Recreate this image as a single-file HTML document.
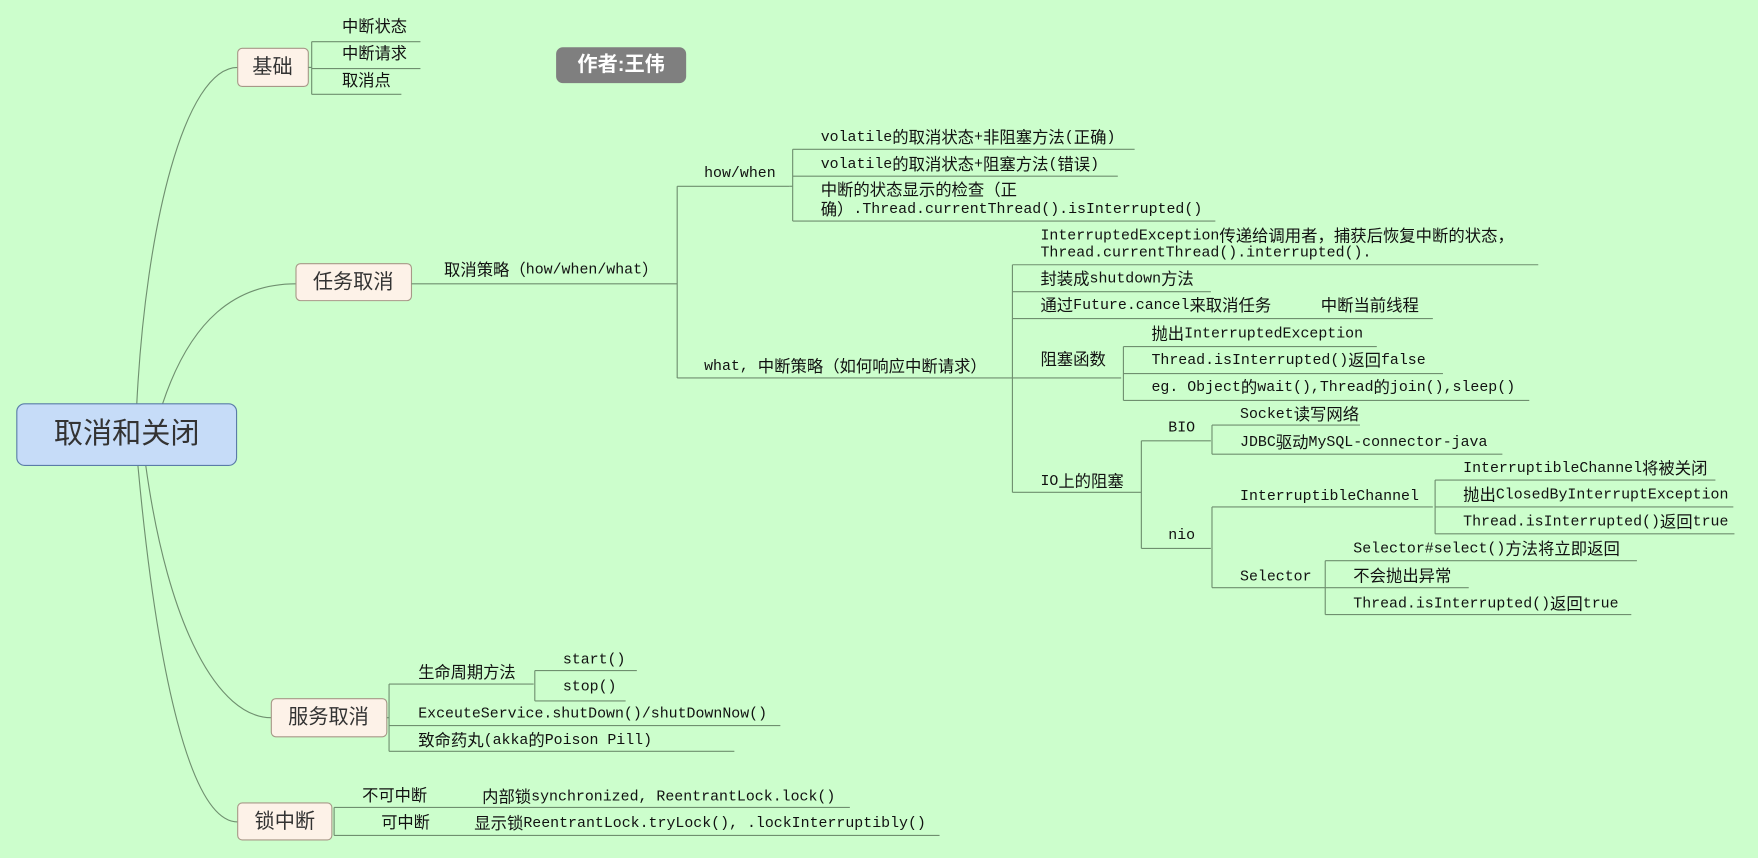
<!DOCTYPE html>
<html><head><meta charset="utf-8"><style>
html,body{margin:0;padding:0;background:#ccfecc;width:1758px;height:858px;overflow:hidden}
svg{display:block}
text{font-family:"Liberation Mono","Noto Sans CJK SC",monospace;font-size:13.3px;fill:#111;dominant-baseline:central}
tspan.k{font-size:14.6px}
.b{font-family:"Liberation Sans","Noto Sans CJK SC",sans-serif;font-size:18px;fill:#333;text-anchor:middle}
.c{font-family:"Liberation Sans","Noto Sans CJK SC",sans-serif;font-size:14.5px}
path,line{stroke:#6f8f6f;stroke-width:1;fill:none}
.box{fill:#fdf2e8;stroke:#a89888;stroke-width:1}
</style></head><body>
<svg width="1758" height="858" viewBox="0 0 1568 765" xmlns="http://www.w3.org/2000/svg">
<rect width="1568" height="765" fill="#ccfecc"/>
<path d="M122,360 C130,200 165,60 212,60"/>
<path d="M145,360 C170,285 210,253 264,253"/>
<path d="M130,415 C150,560 195,640 242,640"/>
<path d="M123,415 C140,600 170,733 212,733"/>
<rect x="15" y="360" width="196" height="55" rx="7" fill="#c6dcf8" stroke="#5a7ca8"/>
<text x="113" y="387" class="b" style="font-size:26px">取消和关闭</text>
<rect x="496" y="42" width="116" height="32" rx="6" fill="#7f7f7f"/>
<text x="554" y="58" class="b" style="fill:#fff;font-weight:bold;font-size:18px">作者:王伟</text>
<rect class="box" x="212" y="43" width="63" height="34" rx="4"/>
<text x="243" y="60" class="b">基础</text>
<line x1="275" y1="60" x2="278" y2="60"/>
<path d="M278,37 V84"/>
<line x1="278" y1="37" x2="375" y2="37"/><text x="305" y="24" class="c">中断状态</text>
<line x1="278" y1="61" x2="375" y2="61"/><text x="305" y="48" class="c">中断请求</text>
<line x1="278" y1="84" x2="358" y2="84"/><text x="305" y="72" class="c">取消点</text>
<rect class="box" x="264" y="235" width="103" height="33" rx="4"/>
<text x="315" y="252" class="b">任务取消</text>
<line x1="367" y1="253" x2="604" y2="253"/>
<text x="396" y="241"><tspan class="k">取消策略（</tspan>how/when/what<tspan class="k">）</tspan></text>
<path d="M604,166 V337"/>
<line x1="604" y1="166" x2="704" y2="166"/><text x="628" y="155">how/when</text>
<line x1="604" y1="337" x2="903" y2="337"/><text x="628" y="327">what, <tspan class="k">中断策略（如何响应中断请求）</tspan></text>
<path d="M707,133 V197"/>
<line x1="704" y1="166" x2="707" y2="166"/>
<line x1="707" y1="133" x2="1012" y2="133"/><text x="732" y="123">volatile<tspan class="k">的取消状态</tspan>+<tspan class="k">非阻塞方法</tspan>(<tspan class="k">正确</tspan>)</text>
<line x1="707" y1="157" x2="997" y2="157"/><text x="732" y="147">volatile<tspan class="k">的取消状态</tspan>+<tspan class="k">阻塞方法</tspan>(<tspan class="k">错误</tspan>)</text>
<line x1="707" y1="197" x2="1084" y2="197"/><text x="732" y="170"><tspan class="k">中断的状态显示的检查（正</tspan></text><text x="732" y="187"><tspan class="k">确）</tspan>.Thread.currentThread().isInterrupted()</text>
<path d="M903,236 V439"/>
<line x1="903" y1="236" x2="1372" y2="236"/><text x="928" y="211">InterruptedException<tspan class="k">传递给调用者，捕获后恢复中断的状态，</tspan></text><text x="928" y="226">Thread.currentThread().interrupted().</text>
<line x1="903" y1="260" x2="1080" y2="260"/><text x="928" y="249"><tspan class="k">封装成</tspan>shutdown<tspan class="k">方法</tspan></text>
<line x1="903" y1="284" x2="1278" y2="284"/><text x="928" y="273"><tspan class="k">通过</tspan>Future.cancel<tspan class="k">来取消任务</tspan></text><text x="1178" y="273"><tspan class="k">中断当前线程</tspan></text>
<line x1="903" y1="337" x2="1000" y2="337"/><text x="928" y="321"><tspan class="k">阻塞函数</tspan></text>
<path d="M1002,309 V357"/>
<line x1="1002" y1="309" x2="1228" y2="309"/><text x="1027" y="298"><tspan class="k">抛出</tspan>InterruptedException</text>
<line x1="1002" y1="333" x2="1287" y2="333"/><text x="1027" y="322">Thread.isInterrupted()<tspan class="k">返回</tspan>false</text>
<line x1="1002" y1="357" x2="1364" y2="357"/><text x="1027" y="346">eg.  Object<tspan class="k">的</tspan>wait(),Thread<tspan class="k">的</tspan>join(),sleep()</text>
<line x1="903" y1="439" x2="1018" y2="439"/><text x="928" y="430">IO<tspan class="k">上的阻塞</tspan></text>
<path d="M1018,393 V489"/>
<line x1="1018" y1="393" x2="1080" y2="393"/><text x="1042" y="382">BIO</text>
<path d="M1081,379 V405"/>
<line x1="1081" y1="379" x2="1213" y2="379"/><text x="1106" y="370">Socket<tspan class="k">读写网络</tspan></text>
<line x1="1081" y1="405" x2="1340" y2="405"/><text x="1106" y="395">JDBC<tspan class="k">驱动</tspan>MySQL-connector-java</text>
<line x1="1018" y1="489" x2="1080" y2="489"/><text x="1042" y="478">nio</text>
<path d="M1081,452 V524"/>
<line x1="1081" y1="452" x2="1278" y2="452"/><text x="1106" y="443">InterruptibleChannel</text>
<path d="M1280,428 V476"/>
<line x1="1280" y1="428" x2="1530" y2="428"/><text x="1305" y="418">InterruptibleChannel<tspan class="k">将被关闭</tspan></text>
<line x1="1280" y1="452" x2="1546" y2="452"/><text x="1305" y="442"><tspan class="k">抛出</tspan>ClosedByInterruptException</text>
<line x1="1280" y1="476" x2="1547" y2="476"/><text x="1305" y="466">Thread.isInterrupted()<tspan class="k">返回</tspan>true</text>
<line x1="1081" y1="524" x2="1182" y2="524"/><text x="1106" y="515">Selector</text>
<path d="M1182,500 V548"/>
<line x1="1182" y1="500" x2="1460" y2="500"/><text x="1207" y="490">Selector#select()<tspan class="k">方法将立即返回</tspan></text>
<line x1="1182" y1="524" x2="1310" y2="524"/><text x="1207" y="514"><tspan class="k">不会抛出异常</tspan></text>
<line x1="1182" y1="548" x2="1455" y2="548"/><text x="1207" y="539">Thread.isInterrupted()<tspan class="k">返回</tspan>true</text>
<rect class="box" x="242" y="623" width="103" height="34" rx="4"/>
<text x="293" y="640" class="b">服务取消</text>
<line x1="345" y1="640" x2="347" y2="640"/>
<path d="M347,610 V670"/>
<line x1="347" y1="610" x2="476" y2="610"/><text x="373" y="600" class="c">生命周期方法</text>
<path d="M477,598 V625"/>
<line x1="477" y1="598" x2="568" y2="598"/><text x="502" y="589">start()</text>
<line x1="477" y1="625" x2="558" y2="625"/><text x="502" y="613">stop()</text>
<line x1="347" y1="647" x2="696" y2="647"/><text x="373" y="637">ExceuteService.shutDown()/shutDownNow()</text>
<line x1="347" y1="670" x2="655" y2="670"/><text x="373" y="661"><tspan class="k">致命药丸</tspan>(akka<tspan class="k">的</tspan>Poison Pill)</text>
<rect class="box" x="212" y="716" width="84" height="33" rx="4"/>
<text x="254" y="733" class="b">锁中断</text>
<path d="M298,720 V745"/>
<line x1="298" y1="720" x2="758" y2="720"/><text x="323" y="710" class="c">不可中断</text><text x="430" y="711"><tspan class="k">内部锁</tspan>synchronized, ReentrantLock.lock()</text>
<line x1="298" y1="745" x2="838" y2="745"/><text x="340" y="734" class="c">可中断</text><text x="423" y="735"><tspan class="k">显示锁</tspan>ReentrantLock.tryLock(), .lockInterruptibly()</text>
</svg>
</body></html>
